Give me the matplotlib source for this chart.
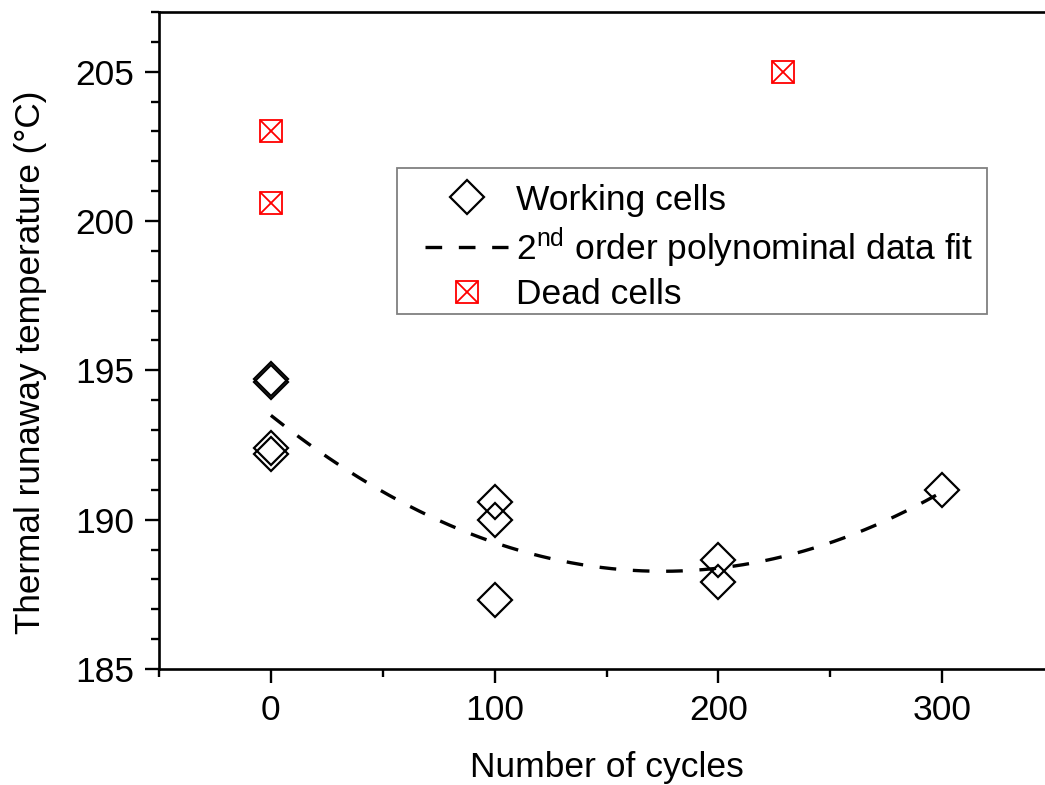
import numpy as np
import matplotlib
matplotlib.use("Agg")
import matplotlib.pyplot as plt
from matplotlib.ticker import MultipleLocator
from matplotlib.legend_handler import HandlerTuple
from matplotlib.patches import Rectangle

plt.rcParams['font.family'] = ['Liberation Sans', 'DejaVu Sans']
plt.rcParams['mathtext.default'] = 'regular'

# working cells (cycles, thermal runaway temperature in degC)
work_cycles = [0, 0, 0, 0, 100, 100, 100, 200, 200, 300]
work_temp = [194.7, 194.6, 192.4, 192.2, 190.6, 190.0, 187.3, 188.65, 187.9, 191.0]

# dead cells
dead_cycles = [0, 0, 229]
dead_temp = [203.0, 200.6, 205.0]

x_ticks = [0, 100, 200, 300]
y_ticks = [185, 190, 195, 200, 205]

# 2nd order fit of the working cells
coef = np.polyfit(work_cycles, work_temp, 2)
fit_x = np.linspace(0, 300, 200)
fit_y = np.polyval(coef, fit_x)

W, H = 1045, 785
fig = plt.figure(figsize=(W / 100, H / 100), dpi=100)
ax = fig.add_axes([0.1522, 0.1478, 1.0086 - 0.1522, 0.9847 - 0.1478])

fit_line, = ax.plot(fit_x, fit_y, color='black', lw=2.4, dashes=[5, 5])
work_pts, = ax.plot(work_cycles, work_temp, ls='none', marker='D', ms=17,
                    mfc='none', mec='black', mew=1.6)
dead_sq, = ax.plot(dead_cycles, dead_temp, ls='none', marker='s', ms=16.5,
                   mfc='none', mec='red', mew=1.3)
dead_x, = ax.plot(dead_cycles, dead_temp, ls='none', marker='x', ms=16.5,
                  mec='red', mew=1.3)

ax.set_xlim(-50, 350)
ax.set_ylim(185, 207)
ax.set_xticks(x_ticks)
ax.set_yticks(y_ticks)
ax.xaxis.set_minor_locator(MultipleLocator(50))
ax.yaxis.set_minor_locator(MultipleLocator(1))
ax.tick_params(which='major', length=10, width=1.7, labelsize=25.5, pad=8)
ax.tick_params(which='minor', length=5.5, width=1.7)

for s in ['left', 'bottom', 'top']:
    ax.spines[s].set_linewidth(1.9)
ax.spines['right'].set_visible(False)

ax.set_xlabel('Number of cycles', fontsize=25.5, labelpad=17)
ax.set_ylabel('Thermal runaway temperature (\u00b0C)', fontsize=25.3, labelpad=20)
ax.yaxis.label.set_y(0.467)

# legend without its own frame; frame drawn as a box around it
leg = fig.legend([work_pts, fit_line, (dead_sq, dead_x)],
                 ['Working cells', '2$^{nd}$ order polynominal data fit', 'Dead cells'],
                 handler_map={tuple: HandlerTuple()},
                 loc='upper left', bbox_to_anchor=(425 / W, 1 - 183.6 / H),
                 fontsize=25.5, frameon=False,
                 handlelength=2.35, handletextpad=0.23, labelspacing=0.25,
                 borderpad=0, borderaxespad=0, markerscale=1.0)
fig.patches.append(Rectangle((397 / W, 1 - 314 / H), 590 / W, 146 / H,
                             transform=fig.transFigure, fill=False,
                             edgecolor='gray', lw=1.3, zorder=5))

fig.savefig('out.png', dpi=100)
